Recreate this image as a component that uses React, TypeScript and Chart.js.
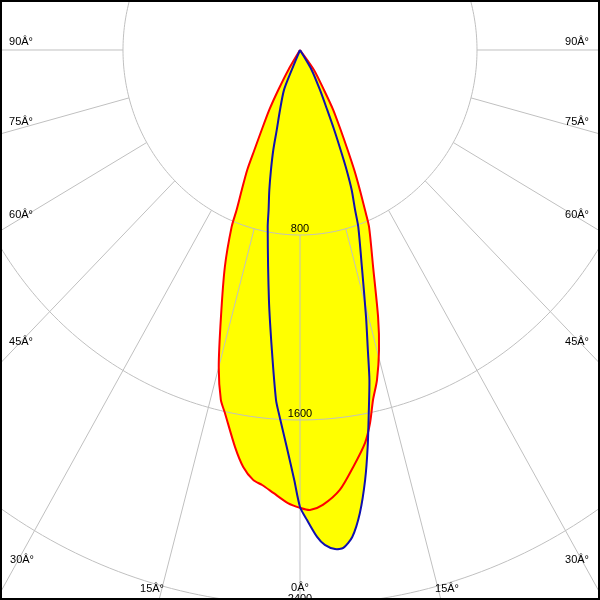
import { useEffect, useRef } from "react";
import { Chart, registerables } from "chart.js";

Chart.register(...registerables);

// C0-C180 plane (red), angle in degrees from nadir, intensity in cd
const redAngles = [
  -32, -31.5, -29.6, -28.2, -26.6, -25.5, -24.7, -23.5, -22.5, -22.0, -19.9, -17.2, -15.0, -13.3, -12.2, -9.7, -8.1, -6.5, -5.2, -3.6, -1.6,
  0, 1.3, 3.0, 5.4, 7.6, 9.8, 11.1, 12.3, 13.7, 15.4, 17.0, 19.4, 22.2, 23.0, 24.1, 25.3, 26.5, 28.0, 30.1, 32.1, 36.2, 38,
];
const redIntensity = [
  0, 101, 199, 294, 387, 479, 571, 660, 749, 825, 998, 1208, 1419, 1555, 1606, 1742, 1821, 1871, 1889, 1919, 1960,
  1980, 1990, 1970, 1911, 1819, 1725, 1644, 1549, 1469, 1345, 1207, 995, 826, 752, 663, 574, 483, 392, 300, 204, 107, 0,
];

// C90-C270 plane (blue)
const blueAngles = [
  -24, -23.4, -22.7, -19.2, -16.9, -15.6, -14.2, -12.9, -11.6, -10.8, -7.4, -5.6, -4.1, -3.5, -2.0, -0.8,
  0, 0.9, 2.1, 3.0, 4.2, 5.2, 6.4, 7.7, 9.0, 10.1, 11.2, 12.4, 13.3, 14.5, 16.6, 19.0, 19.8, 21.1, 22.1, 23.0, 24.1, 25.4, 27.6, 31.4, 33,
];
const blueIntensity = [
  0, 94, 188, 275, 362, 449, 535, 621, 706, 779, 1090, 1303, 1517, 1573, 1718, 1860,
  1976, 2033, 2107, 2143, 2164, 2162, 2119, 2020, 1882, 1744, 1600, 1461, 1333, 1192, 979, 809, 735, 649, 560, 470, 379, 287, 195, 101, 0,
];

const ringValues = [800, 1600, 2400];
const spokeAngles = [-90, -75, -60, -45, -30, -15, 0, 15, 30, 45, 60, 75, 90];
const angleLabelTexts = [
  "90Â°", "75Â°", "60Â°", "45Â°", "30Â°", "15Â°", "0Â°", "15Â°", "30Â°", "45Â°", "60Â°", "75Â°", "90Â°",
];

// layout of the angle labels (pixel centres)
const angleLabelPos: [number, number][] = [
  [21, 42], [21, 122], [21, 215], [21, 342], [22, 560], [152, 589], [300, 588],
  [447, 589], [577, 560], [577, 342], [577, 215], [577, 122], [577, 42],
];

function toXY(angles: number[], values: number[]) {
  return angles.map((a, i) => {
    const r = (a * Math.PI) / 180;
    return { x: values[i] * Math.sin(r), y: -values[i] * Math.cos(r) };
  });
}

const FONT = "11px 'Liberation Sans', Arial, sans-serif";

const polarGrid = {
  id: "polarGrid",
  beforeDatasetsDraw(chart: any) {
    const { ctx, chartArea } = chart;
    const xs = chart.scales.x;
    const ys = chart.scales.y;
    const P = (a: number, r: number) => {
      const t = (a * Math.PI) / 180;
      return [xs.getPixelForValue(r * Math.sin(t)), ys.getPixelForValue(-r * Math.cos(t))];
    };
    ctx.save();
    ctx.beginPath();
    ctx.rect(chartArea.left, chartArea.top, chartArea.right - chartArea.left, chartArea.bottom - chartArea.top);
    ctx.clip();
    ctx.strokeStyle = "#c0c0c0";
    ctx.lineWidth = 1;
    for (const r of ringValues) {
      ctx.beginPath();
      for (let a = 0; a <= 360; a += 1) {
        const [px, py] = P(a, r);
        if (a === 0) ctx.moveTo(px, py);
        else ctx.lineTo(px, py);
      }
      ctx.closePath();
      ctx.stroke();
    }
    for (const a of spokeAngles) {
      const [x0, y0] = P(a, ringValues[0]);
      const [x1, y1] = P(a, 8000);
      ctx.beginPath();
      ctx.moveTo(x0, y0);
      ctx.lineTo(x1, y1);
      ctx.stroke();
    }
    ctx.restore();
  },
  afterDatasetsDraw(chart: any) {
    const { ctx } = chart;
    const xs = chart.scales.x;
    const ys = chart.scales.y;
    ctx.save();
    ctx.fillStyle = "#000000";
    ctx.font = FONT;
    ctx.textAlign = "center";
    ctx.textBaseline = "middle";
    for (const r of ringValues) {
      ctx.fillText(String(r), xs.getPixelForValue(0), ys.getPixelForValue(-r) - 6);
    }
    angleLabelTexts.forEach((t, i) => {
      ctx.fillText(t, angleLabelPos[i][0], angleLabelPos[i][1]);
    });
    ctx.strokeStyle = "#000000";
    ctx.lineWidth = 2;
    ctx.strokeRect(1, 1, chart.width - 2, chart.height - 2);
    ctx.restore();
  },
};

export default function App() {
  const ref = useRef<HTMLCanvasElement | null>(null);
  useEffect(() => {
    if (!ref.current) return;
    const chart = new Chart(ref.current, {
      type: "scatter",
      data: {
        datasets: [
          {
            label: "C0-C180",
            data: toXY(redAngles, redIntensity),
            showLine: true,
            fill: "shape",
            backgroundColor: "#ffff00",
            borderColor: "#ff0000",
            borderWidth: 2,
            pointRadius: 0,
            tension: 0.25,
            order: 2,
          },
          {
            label: "C90-C270",
            data: toXY(blueAngles, blueIntensity),
            showLine: true,
            fill: "shape",
            backgroundColor: "#ffff00",
            borderColor: "#1010b0",
            borderWidth: 2,
            pointRadius: 0,
            tension: 0.25,
            order: 1,
          },
        ] as any,
      },
      options: {
        animation: false,
        responsive: false,
        events: [],
        layout: { padding: 0 },
        scales: {
          x: { type: "linear", min: -1355.9, max: 1355.9, display: false },
          y: { type: "linear", min: -2378.4, max: 216.2, display: false },
        },
        plugins: {
          legend: { display: false },
          tooltip: { enabled: false },
          filler: { drawTime: "beforeDatasetsDraw" },
        } as any,
      },
      plugins: [polarGrid],
    });
    return () => chart.destroy();
  }, []);
  return (
    <div style={{ position: "absolute", left: 0, top: 0, width: 600, height: 600, background: "#ffffff" }}>
      <canvas ref={ref} width={600} height={600} />
    </div>
  );
}
